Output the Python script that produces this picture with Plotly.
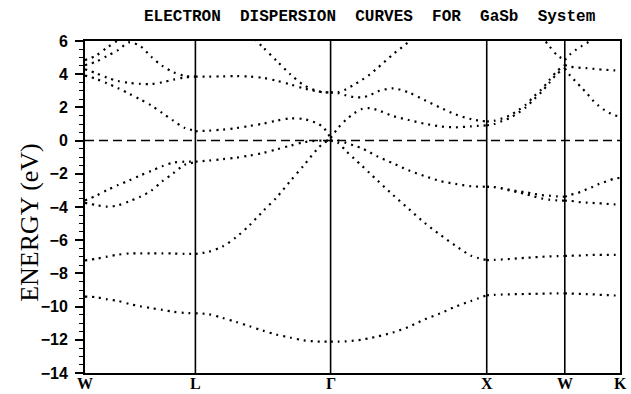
import plotly.graph_objects as go

# high-symmetry points (path length in units of 2*pi/a)
sym_labels = ["W", "L", "Γ", "X", "W", "K"]
sym_k = [0.0, 0.7071, 1.5731, 2.5731, 3.0731, 3.4267]

N = None
# ---- segment W -> L ----
t_WL = [0, .1, .2, .3, .4, .5, .6, .7, .8, .9, 1]
WL_v1 = [-9.4, -9.43, -9.56, -9.66, -9.84, -9.98, -10.09, -10.2, -10.31, -10.38, -10.4]
WL_v2 = [-7.22, -7.12, -6.99, -6.87, -6.8, -6.79, -6.79, -6.79, -6.8, -6.82, -6.83]
WL_v3 = [-3.75, -3.88, -3.98, -3.9, -3.66, -3.38, -3.02, -2.45, -1.97, -1.47, -1.3]
WL_v4 = [-3.6, -3.32, -2.98, -2.68, -2.4, -2.1, -1.83, -1.54, -1.33, -1.27, -1.27]
WL_c1 = [3.92, 3.72, 3.45, 3.16, 2.82, 2.48, 2.12, 1.66, 1.2, 0.78, 0.58]
WL_c2 = [4.3, 4.06, 3.79, 3.59, 3.48, 3.42, 3.41, 3.51, 3.67, 3.8, 3.85]
WL_c3 = [4.55, 4.75, 5.1, 5.45, 5.92, 5.7, 5.05, 4.5, 4.12, 3.9, 3.85]
WL_c4 = [4.85, 5.12, 5.6, 6.05, 6.5, N, N, N, N, N, N]

# ---- segment L -> Gamma ----
t_LG = [0, .1, .2, .3, .4, .5, .6, .7, .8, .9, .95, 1]
LG_v1 = [-10.4, -10.46, -10.68, -10.92, -11.18, -11.45, -11.69, -11.86, -12.03, -12.1, -12.11, -12.11]
LG_v2 = [-6.83, -6.69, -6.38, -5.83, -5.1, -4.25, -3.43, -2.45, -1.51, -0.52, -0.13, 0.0]
LG_v3 = [-1.27, -1.2, -1.12, -1.03, -0.9, -0.75, -0.53, -0.31, -0.1, 0.0, 0.0, 0.0]
LG_c1 = [0.56, 0.6, 0.66, 0.75, 0.88, 1.02, 1.2, 1.34, 1.3, 1.04, 0.76, 0.15]
LG_c2 = [3.85, 3.85, 3.87, 3.88, 3.86, 3.78, 3.61, 3.39, 3.15, 2.97, 2.91, 2.9]
LG_c3 = [N, N, N, N, 6.42, 5.62, 4.81, 4.01, 3.35, 2.99, 2.91, 2.9]

# ---- segment Gamma -> X ----
t_GX = [0, .05, .1, .15, .2, .25, .3, .4, .5, .6, .7, .8, .9, 1]
GX_v1 = [-12.11, -12.11, -12.09, -12.05, -11.99, -11.9, -11.8, -11.56, -11.22, -10.78, -10.42, -10.0, -9.66, -9.32]
GX_v2 = [0.0, -0.15, -0.64, -1.08, -1.51, -1.96, -2.4, -3.28, -4.11, -4.94, -5.66, -6.33, -6.93, -7.2]
GX_v3 = [0.0, 0.0, -0.14, -0.3, -0.46, -0.7, -0.95, -1.37, -1.79, -2.13, -2.43, -2.61, -2.75, -2.78]
GX_c1 = [0.15, 0.78, 1.27, 1.64, 1.9, 1.96, 1.84, 1.48, 1.24, 1.02, 0.86, 0.8, 0.86, 0.92]
GX_c2 = [2.9, 2.85, 2.72, 2.62, 2.61, 2.72, 2.96, 3.15, 2.9, 2.45, 2.0, 1.58, 1.29, 1.15]
GX_c3 = [2.9, 2.92, 3.1, 3.37, 3.65, 3.98, 4.37, 5.2, 5.95, 6.8, N, N, N, N]

# ---- segment X -> W ----
t_XW = [0, .1, .2, .3, .4, .5, .6, .7, .8, .9, 1]
XW_v1 = [-9.32, -9.29, -9.27, -9.26, -9.25, -9.24, -9.23, -9.22, -9.21, -9.2, -9.2]
XW_v2 = [-7.2, -7.18, -7.16, -7.13, -7.09, -7.06, -7.03, -7.0, -6.98, -6.96, -6.95]
XW_v3 = [-2.78, -2.8, -2.87, -2.97, -3.05, -3.11, -3.2, -3.28, -3.32, -3.36, -3.38]
XW_v4 = [-2.78, -2.8, -2.89, -3.01, -3.12, -3.22, -3.36, -3.48, -3.56, -3.6, -3.62]
XW_c1 = [0.92, 1.0, 1.18, 1.37, 1.66, 2.0, 2.46, 2.92, 3.47, 4.02, 4.35]
XW_c2 = [1.15, 1.2, 1.34, 1.53, 1.82, 2.16, 2.64, 3.08, 3.63, 4.18, 4.55]
XW_c3 = [N, N, N, N, N, N, N, 6.3, 5.7, 5.15, 4.85]

# ---- segment W -> K ----
t_WK = [0, .1, .2, .3, .4, .5, .6, .7, .8, .9, 1]
WK_v1 = [-9.2, -9.21, -9.23, -9.24, -9.25, -9.26, -9.28, -9.3, -9.31, -9.33, -9.34]
WK_v2 = [-6.95, -6.94, -6.93, -6.92, -6.9, -6.89, -6.89, -6.89, -6.89, -6.89, -6.89]
WK_v3 = [-3.38, -3.27, -3.18, -3.08, -2.93, -2.8, -2.64, -2.52, -2.4, -2.29, -2.25]
WK_v4 = [-3.62, -3.63, -3.67, -3.72, -3.74, -3.75, -3.78, -3.79, -3.82, -3.84, -3.85]
WK_c1 = [4.35, 3.9, 3.55, 3.2, 2.85, 2.45, 2.14, 1.88, 1.68, 1.53, 1.45]
WK_c2 = [4.55, 4.45, 4.41, 4.38, 4.36, 4.33, 4.3, 4.27, 4.25, 4.23, 4.21]
WK_c3 = [4.85, 5.2, 5.46, 5.68, 5.88, 6.1, 6.35, N, N, N, N]

segments = [
    (0, t_WL, [WL_v1, WL_v2, WL_v3, WL_v4, WL_c1, WL_c2, WL_c3, WL_c4]),
    (1, t_LG, [LG_v1, LG_v2, LG_v3, LG_c1, LG_c2, LG_c3]),
    (2, t_GX, [GX_v1, GX_v2, GX_v3, GX_c1, GX_c2, GX_c3]),
    (3, t_XW, [XW_v1, XW_v2, XW_v3, XW_v4, XW_c1, XW_c2, XW_c3]),
    (4, t_WK, [WK_v1, WK_v2, WK_v3, WK_v4, WK_c1, WK_c2, WK_c3]),
]

fig = go.Figure()
for i, tg, bands in segments:
    k0, k1 = sym_k[i], sym_k[i + 1]
    ks = [k0 + t * (k1 - k0) for t in tg]
    for e in bands:
        fig.add_trace(go.Scatter(
            x=ks, y=e, mode="lines",
            line=dict(color="black", width=2.2, dash="2px,5px", shape="spline", smoothing=0.8),
            connectgaps=False, showlegend=False, hoverinfo="skip"))

shapes = []
for k in sym_k[1:-1]:
    shapes.append(dict(type="line", xref="x", yref="paper", x0=k, x1=k, y0=0, y1=1,
                       line=dict(color="black", width=1.6)))
shapes.append(dict(type="line", xref="x", yref="y", x0=sym_k[0], x1=sym_k[-1], y0=0, y1=0,
                   line=dict(color="black", width=1.5, dash="9px,5px")))

title_text = "\u00a0\u00a0".join(["ELECTRON", "DISPERSION", "CURVES", "FOR", "GaSb", "System"])

annotations = [
    dict(text=title_text, xref="paper", yref="paper", x=0.533, y=1.072,
         xanchor="center", yanchor="middle", showarrow=False,
         font=dict(family="Liberation Mono", size=16, color="black", weight="bold")),
    dict(text="ENERGY (eV)", xref="paper", yref="paper", x=-0.103, y=0.455,
         xanchor="center", yanchor="middle", textangle=-90, showarrow=False,
         font=dict(family="Liberation Serif", size=26, color="black")),
]
for k, lab in zip(sym_k, sym_labels):
    annotations.append(dict(text=lab, xref="x", yref="paper", x=k, y=0,
                            xanchor="center", yanchor="top", yshift=0, showarrow=False,
                            font=dict(family="Liberation Serif", size=16, color="black", weight="bold")))

fig.update_layout(
    width=631, height=394,
    margin=dict(l=85, r=11, t=41, b=21, autoexpand=False),
    paper_bgcolor="white", plot_bgcolor="white",
    shapes=shapes,
    showlegend=False,
    annotations=annotations,
    xaxis=dict(range=[sym_k[0], sym_k[-1]], tickvals=sym_k, showticklabels=False,
               showgrid=False, zeroline=False, ticks="", automargin=False,
               showline=True, mirror=True, linecolor="black", linewidth=2),
    yaxis=dict(range=[-14, 6], dtick=2, tick0=0, showgrid=False, zeroline=False,
               ticks="outside", ticklen=8, tickwidth=1.5, tickcolor="black", automargin=False,
               ticklabelstandoff=4,
               minor=dict(dtick=0.5, ticks="outside", ticklen=4, tickwidth=1, tickcolor="black"),
               showline=True, mirror=True, linecolor="black", linewidth=2,
               tickfont=dict(family="Liberation Sans", size=16, color="black", weight="bold")),
)

fig.write_html("out.html")
